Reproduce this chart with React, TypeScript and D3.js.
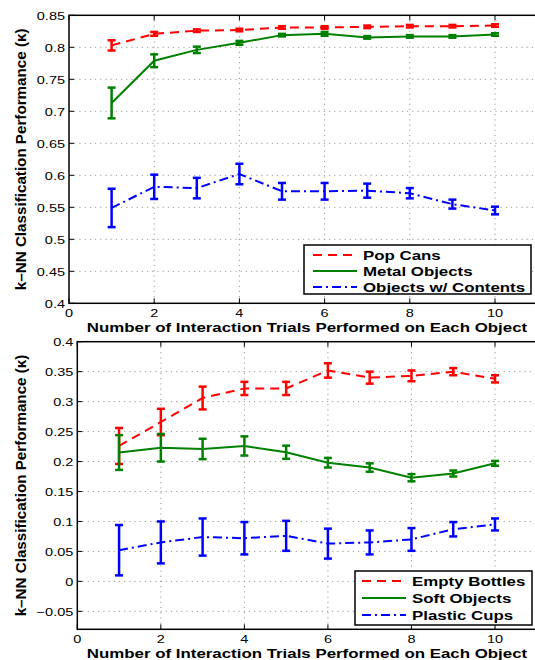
import React, { useRef, useEffect } from "react";
import * as d3 from "d3";

const trials = [1, 2, 3, 4, 5, 6, 7, 8, 9, 10];

// top panel
const popCans = [0.803, 0.821, 0.826, 0.827, 0.831, 0.831, 0.832, 0.833, 0.833, 0.834];
const popCansErr = [0.008, 0.003, 0.002, 0.002, 0.002, 0.002, 0.002, 0.002, 0.002, 0.002];
const metalObjects = [0.713, 0.779, 0.796, 0.807, 0.819, 0.821, 0.8155, 0.817, 0.817, 0.82];
const metalObjectsErr = [0.024, 0.01, 0.005, 0.003, 0.002, 0.003, 0.002, 0.002, 0.002, 0.002];
const contents = [0.549, 0.582, 0.58, 0.602, 0.575, 0.575, 0.576, 0.572, 0.555, 0.545];
const contentsErr = [0.03, 0.019, 0.016, 0.016, 0.013, 0.013, 0.011, 0.008, 0.007, 0.006];

// bottom panel
const emptyBottles = [0.226, 0.266, 0.306, 0.322, 0.322, 0.352, 0.34, 0.343, 0.35, 0.338];
const emptyBottlesErr = [0.03, 0.022, 0.019, 0.011, 0.011, 0.012, 0.01, 0.009, 0.006, 0.006];
const softObjects = [0.215, 0.223, 0.221, 0.226, 0.2155, 0.198, 0.19, 0.173, 0.18, 0.197];
const softObjectsErr = [0.029, 0.023, 0.017, 0.016, 0.011, 0.008, 0.007, 0.006, 0.005, 0.004];
const plasticCups = [0.052, 0.065, 0.074, 0.072, 0.076, 0.063, 0.065, 0.07, 0.087, 0.095];
const plasticCupsErr = [0.042, 0.035, 0.031, 0.027, 0.025, 0.025, 0.02, 0.019, 0.012, 0.01];

const xTicks = [0, 2, 4, 6, 8, 10];
const topYTicks = [0.4, 0.45, 0.5, 0.55, 0.6, 0.65, 0.7, 0.75, 0.8, 0.85];
const bottomYTicks = [-0.05, 0, 0.05, 0.1, 0.15, 0.2, 0.25, 0.3, 0.35, 0.4];

const xLabel = "Number of Interaction Trials Performed on Each Object";
const yLabel = "k\u2013NN Classification Performance (\u03BA)";

const RED = "#ff0000";
const GREEN = "#008000";
const BLUE = "#0000ff";
const DASH = "9,6";
const DASHDOT = "9,4,2,4";

const FONT = "'Liberation Sans', Arial, Helvetica, sans-serif";
// the figure looks stretched sideways, so horizontal text is widened
const SX = 1.25;

const fmt = (d) => {
  const s = String(+d.toFixed(2));
  return s.replace("-", "\u2212");
};

const addText = (g, x, y, str, size, anchor, bold) =>
  g.append("text")
    .attr("transform", `translate(${x},${y}) scale(${SX},1)`)
    .attr("text-anchor", anchor)
    .attr("font-size", size)
    .attr("font-weight", bold ? "bold" : "normal")
    .attr("font-family", FONT)
    .text(str);

const App = () => {
  const ref = useRef();

  useEffect(() => {
    const svg = d3.select(ref.current);
    svg.selectAll("*").remove();

    const drawPanel = (cfg) => {
      const x = d3.scaleLinear().domain([0, 12]).range([cfg.left, cfg.left + cfg.xUnit * 12]);
      const y = d3.scaleLinear().domain(cfg.yDomain).range([cfg.bottom, cfg.top]);
      const g = svg.append("g");
      const right = x(12);

      // dotted grid
      cfg.yTicks.forEach((t) => {
        if (t === cfg.yDomain[0] || t === cfg.yDomain[1]) return;
        g.append("line")
          .attr("x1", cfg.left).attr("x2", right)
          .attr("y1", y(t)).attr("y2", y(t))
          .attr("stroke", "#999").attr("stroke-width", 1)
          .attr("stroke-dasharray", "1.2,4");
      });
      xTicks.forEach((t) => {
        if (t === 0) return;
        g.append("line")
          .attr("x1", x(t)).attr("x2", x(t))
          .attr("y1", cfg.top).attr("y2", cfg.bottom)
          .attr("stroke", "#999").attr("stroke-width", 1)
          .attr("stroke-dasharray", "1.2,4");
      });

      // frame
      g.append("rect")
        .attr("x", cfg.left).attr("y", cfg.top)
        .attr("width", right - cfg.left).attr("height", cfg.bottom - cfg.top)
        .attr("fill", "none").attr("stroke", "#000").attr("stroke-width", 1.5);

      // ticks inside
      cfg.yTicks.forEach((t) => {
        g.append("line")
          .attr("x1", cfg.left).attr("x2", cfg.left + 5)
          .attr("y1", y(t)).attr("y2", y(t))
          .attr("stroke", "#000");
        addText(g, cfg.left - 4, y(t) + 4.2, fmt(t), 11.6, "end", false);
      });
      xTicks.forEach((t) => {
        g.append("line")
          .attr("x1", x(t)).attr("x2", x(t))
          .attr("y1", cfg.bottom).attr("y2", cfg.bottom - 5)
          .attr("stroke", "#000");
        g.append("line")
          .attr("x1", x(t)).attr("x2", x(t))
          .attr("y1", cfg.top).attr("y2", cfg.top + 5)
          .attr("stroke", "#000");
        addText(g, x(t), cfg.bottom + 13.4, t, 11.6, "middle", false);
      });

      // series
      const line = d3.line().x((d) => x(d.x)).y((d) => y(d.y));
      cfg.series.forEach((s) => {
        const pts = trials.map((t, i) => ({ x: t, y: s.values[i], e: s.err[i] }));
        g.append("path")
          .datum(pts)
          .attr("d", line)
          .attr("fill", "none")
          .attr("stroke", s.color)
          .attr("stroke-width", 2)
          .attr("stroke-dasharray", s.dash);
        const eb = g.append("g").attr("stroke", s.color).attr("stroke-width", 2.5);
        pts.forEach((p) => {
          eb.append("line")
            .attr("x1", x(p.x)).attr("x2", x(p.x))
            .attr("y1", y(p.y - p.e)).attr("y2", y(p.y + p.e));
          [p.y - p.e, p.y + p.e].forEach((v) => {
            eb.append("line")
              .attr("x1", x(p.x) - 4).attr("x2", x(p.x) + 4)
              .attr("y1", y(v)).attr("y2", y(v));
          });
        });
      });

      // legend
      const lg = cfg.legend;
      g.append("rect")
        .attr("x", lg.x).attr("y", lg.y)
        .attr("width", lg.w).attr("height", lg.h)
        .attr("fill", "#fff").attr("stroke", "#000").attr("stroke-width", 1.5);
      cfg.series.forEach((s, i) => {
        const ly = lg.y + lg.first + i * lg.step;
        g.append("line")
          .attr("x1", lg.x + lg.pad).attr("x2", lg.x + lg.pad + lg.lineW)
          .attr("y1", ly).attr("y2", ly)
          .attr("stroke", s.color).attr("stroke-width", 2)
          .attr("stroke-dasharray", s.dash);
        addText(g, lg.x + lg.pad + lg.lineW + 6, ly + 5, s.name, 13.5, "start", true);
      });

      // axis labels
      addText(g, 307, cfg.bottom + 28.7, xLabel, 13.5, "middle", true);
      g.append("text")
        .attr("transform", `translate(25.5, ${(cfg.top + cfg.bottom) / 2}) rotate(-90)`)
        .attr("text-anchor", "middle")
        .attr("font-size", 15.2).attr("font-weight", "bold").attr("font-family", FONT)
        .text(yLabel);
    };

    drawPanel({
      left: 69, xUnit: 42.6, top: 15.3, bottom: 303.3,
      yDomain: [0.4, 0.85], yTicks: topYTicks,
      series: [
        { name: "Pop Cans", values: popCans, err: popCansErr, color: RED, dash: DASH },
        { name: "Metal Objects", values: metalObjects, err: metalObjectsErr, color: GREEN, dash: null },
        { name: "Objects w/ Contents", values: contents, err: contentsErr, color: BLUE, dash: DASHDOT },
      ],
      legend: { x: 304, y: 245, w: 227, h: 49, first: 10, step: 16, pad: 9, lineW: 44 },
    });

    drawPanel({
      left: 77.3, xUnit: 41.77, top: 341.7, bottom: 629.3,
      yDomain: [-0.08, 0.4], yTicks: bottomYTicks,
      series: [
        { name: "Empty Bottles", values: emptyBottles, err: emptyBottlesErr, color: RED, dash: DASH },
        { name: "Soft Objects", values: softObjects, err: softObjectsErr, color: GREEN, dash: null },
        { name: "Plastic Cups", values: plasticCups, err: plasticCupsErr, color: BLUE, dash: DASHDOT },
      ],
      legend: { x: 355, y: 571, w: 177, h: 54, first: 10, step: 17, pad: 7, lineW: 44 },
    });
  }, []);

  return (
    <div style={{ position: "absolute", left: 0, top: 0 }}>
      <svg ref={ref} width={535} height={660} style={{ display: "block", background: "#fff" }} />
    </div>
  );
};

export default App;
